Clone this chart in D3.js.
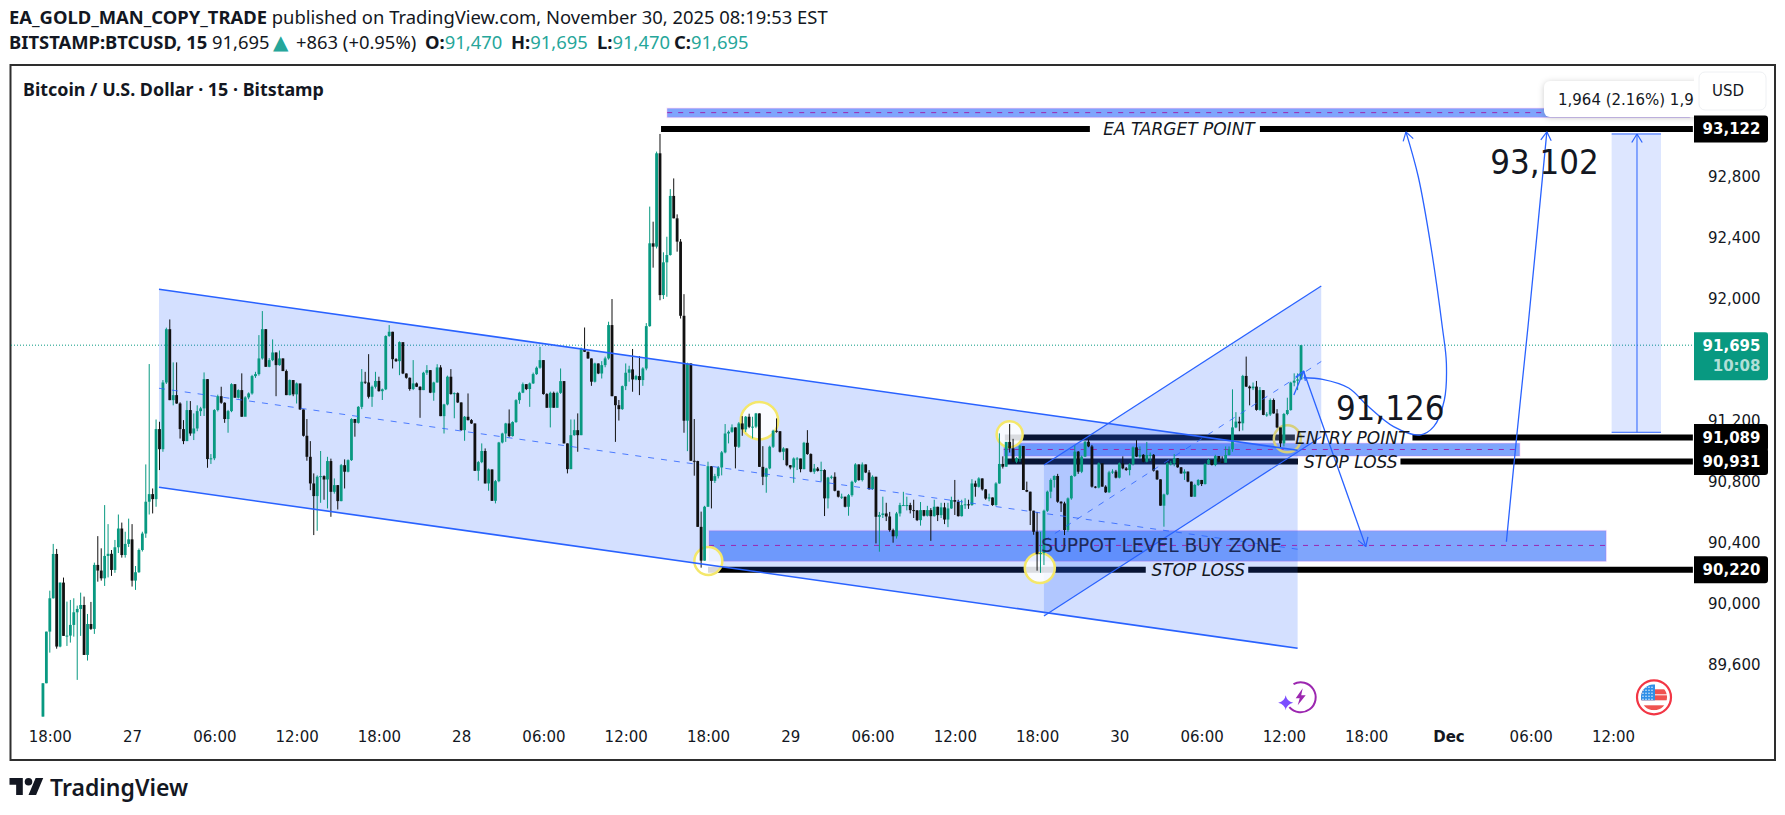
<!DOCTYPE html>
<html>
<head>
<meta charset="utf-8">
<script src="https://cdn.jsdelivr.net/npm/d3@7"></script>
<style>
  body { margin: 0; background: #fff; }
  text { font-family: "DejaVu Sans", sans-serif; }
  .head text, text.head { font-family: "Noto Sans", sans-serif; }
</style>
</head>
<body>
<script>
// candle values, 15 minute bars, open is the close before
var firstOpen = 89256;
var closes = [89475,89814,90033,90324,89716,90136,89786,89788,89858,89941,89963,89989,89661,89864,89832,90252,90215,90164,90311,90325,
90219,90368,90491,90317,90390,90420,90149,90204,90350,90458,90667,90717,90684,91144,91012,91450,91800,91334,91367,91312,
91144,91065,91269,91115,91148,91262,91280,91472,90947,90952,91269,91360,91317,91210,91262,91439,91350,91400,91225,91352,
91378,91492,91505,91608,91800,91553,91597,91647,91564,91608,91525,91367,91466,91372,91444,91273,91100,90962,90787,90704,
90831,90835,90813,90934,90732,90776,90671,90907,90864,90940,91210,91185,91290,91455,91450,91356,91422,91460,91393,91405,
91755,91783,91603,91590,91715,91509,91481,91407,91444,91422,91400,91514,91531,91383,91450,91549,91229,91306,91488,91374,
91380,91319,91137,91225,91203,91181,90870,90927,91000,90787,90879,90673,90802,91056,91115,91181,91098,91190,91334,91383,
91439,91407,91444,91505,91547,91597,91374,91284,91382,91284,91382,91459,91050,90881,91104,91137,91104,91669,91652,91608,
91455,91575,91509,91564,91608,91827,91360,91301,91275,91426,91514,91536,91470,91492,91466,91542,91820,92364,92342,92955,
92024,92239,92287,92675,92528,92375,91888,91199,91575,90936,90934,90502,90280,90634,90900,90804,90835,90892,90991,91115,
91126,91155,91028,91181,91142,91225,91159,91160,91247,90896,90831,90886,91028,91133,91130,90995,91017,90907,90892,90951,
90951,90881,91054,90980,90864,90885,90870,90875,90689,90826,90831,90739,90700,90700,90634,90710,90798,90912,90809,90912,
90859,90750,90831,90568,90580,90590,90570,90480,90440,90590,90645,90645,90645,90612,90610,90546,90612,90575,90612,90572,
90634,90579,90630,90550,90623,90678,90667,90572,90645,90650,90645,90787,90765,90820,90748,90688,90695,90645,90787,90915,
90897,91060,91017,90930,90952,91033,90744,90733,90608,90470,90323,90330,90608,90733,90810,90836,90667,90656,90481,90689,
90836,90996,90864,90963,91061,91030,90766,90760,90919,90766,90729,90860,90865,90825,90919,90886,90875,90915,91024,90963,
90975,90930,90974,90975,90871,90814,90641,90715,90919,90920,90952,90893,90853,90865,90799,90700,90777,90810,90783,90915,
90941,90908,90967,90930,90923,90974,91011,91155,91193,91182,91493,91423,91412,91423,91270,91400,91237,91240,91335,91247,
91155,91050,91243,91269,91449,91462,91470,91695];
var highs = [89475,89814,90083,90390,90357,90136,90169,90011,90022,90033,89985,90070,90044,89930,90009,90267,90441,90361,90645,90520,
90350,90416,90583,90530,90470,90556,90520,90245,90360,90470,90912,91571,90754,91207,91192,91466,91810,91864,91582,91582,
91320,91203,91330,91328,91247,91300,91290,91516,91472,90980,91275,91370,91422,91320,91270,91445,91439,91405,91510,91360,
91385,91500,91520,91761,91919,91800,91610,91733,91647,91660,91608,91535,91470,91466,91450,91418,91273,91210,91065,90853,
90840,91000,90840,90962,90950,90820,90776,90915,90945,90945,91215,91210,91295,91538,91520,91636,91430,91520,91488,91410,
91760,91827,91783,91610,91720,91695,91510,91483,91597,91450,91425,91520,91564,91531,91455,91570,91564,91310,91495,91538,
91385,91385,91319,91230,91378,91210,91181,90935,91050,91017,90885,90879,90810,91060,91120,91185,91273,91195,91340,91390,
91450,91439,91450,91515,91555,91684,91597,91380,91390,91390,91390,91542,91459,91050,91207,91207,91247,91680,91811,91652,
91608,91580,91575,91590,91620,91849,91998,91360,91335,91430,91575,91560,91670,91500,91623,91550,91840,92605,92506,92966,
93082,92305,92407,92720,92790,92554,92392,92030,91580,91575,91210,90936,90602,90640,90930,90900,90850,90900,91000,91177,
91135,91175,91155,91190,91229,91230,91245,91225,91250,91247,91032,90890,91035,91140,91214,91130,91025,91017,90907,90958,
90960,90950,91060,91137,90985,90915,90895,90930,90880,90830,90840,90860,90739,90720,90700,90718,90805,90920,90912,90925,
90912,90875,90840,90831,90600,90700,90660,90600,90490,90600,90660,90732,90700,90660,90680,90612,90665,90612,90640,90625,
90680,90634,90660,90660,90660,90700,90810,90680,90680,90690,90680,90815,90805,90828,90820,90750,90720,90695,90795,91116,
90965,91025,91177,91080,90960,91040,91033,90799,90733,90608,90600,90470,90615,90740,90820,90840,90850,90670,90667,90695,
90840,91040,91000,90970,91065,91076,91040,90770,90925,90919,90775,90870,90880,90876,90925,90965,90895,90920,91030,91072,
91030,90980,91060,90990,90980,90875,90814,90720,90925,90935,90980,90952,90895,90880,90865,90799,90785,90815,90810,90920,
90950,90941,90975,90967,90965,91030,91030,91405,91255,91225,91500,91620,91430,91450,91460,91420,91400,91255,91345,91345,
91275,91150,91250,91350,91455,91510,91510,91695];
var lows = [89256,89475,89676,90031,89702,89711,89786,89720,89742,89781,89497,89786,89661,89624,89825,89799,90142,90149,90114,90170,
90180,90200,90330,90300,90300,90370,90110,90088,90200,90340,90430,90583,90590,90634,90875,90995,91440,91334,91300,91310,
91082,91045,91065,91100,91072,91130,91230,91230,90890,90915,90940,91260,91310,91185,91120,91255,91350,91345,91225,91235,
91340,91370,91480,91495,91600,91553,91550,91590,91360,91560,91525,91367,91365,91360,91312,91270,91095,90936,90743,90448,
90476,90660,90680,90623,90568,90720,90616,90670,90754,90860,90935,91094,91180,91275,91440,91345,91290,91410,91390,91335,
91400,91750,91542,91585,91498,91505,91475,91396,91400,91420,91218,91400,91500,91380,91330,91450,91229,91115,91300,91370,
91215,91315,91133,91067,91200,91178,90870,90805,90920,90787,90739,90673,90656,90795,91050,91060,91090,91095,91185,91310,
91380,91400,91290,91440,91500,91540,91370,91284,91155,91284,91284,91375,91050,90853,90881,91100,90995,91104,91650,91605,
91428,91450,91505,91476,91550,91600,91360,91060,91200,91270,91400,91455,91389,91465,91367,91428,91530,91816,92204,92330,
91990,91998,92013,92283,92528,92309,91870,91120,90999,90936,90838,90502,90234,90280,90634,90623,90790,90820,90840,90985,
91050,91120,90886,91020,91100,91125,91150,91083,91150,90896,90776,90726,90880,91020,91120,90990,90940,90900,90880,90791,
90875,90860,90880,90975,90860,90850,90865,90800,90573,90623,90815,90735,90695,90685,90630,90575,90700,90790,90805,90800,
90855,90745,90745,90393,90339,90560,90540,90470,90398,90425,90570,90640,90610,90590,90560,90540,90510,90570,90570,90410,
90570,90540,90560,90520,90500,90620,90580,90570,90570,90620,90620,90640,90700,90760,90740,90680,90670,90640,90640,90785,
90885,90897,90990,90925,90920,90930,90744,90730,90514,90450,90214,90200,90251,90600,90690,90760,90660,90600,90448,90470,
90680,90830,90850,90855,90960,91025,90760,90755,90755,90766,90725,90725,90850,90820,90820,90880,90870,90840,90905,90960,
90950,90925,90925,90935,90865,90810,90641,90503,90710,90905,90900,90890,90850,90810,90795,90700,90700,90770,90770,90780,
90910,90905,90900,90925,90920,90935,90970,90995,91150,91130,91135,91420,91300,91400,91265,91265,91235,91225,91230,91245,
91150,91020,91030,91235,91265,91425,91400,91470];

// axis
var priceTicks = [92800, 92400, 92000, 91200, 90800, 90400, 90000, 89600];
var timeLabels = ["18:00","27","06:00","12:00","18:00","28","06:00","12:00","18:00","29","06:00","12:00","18:00","30","06:00","12:00","18:00","Dec","06:00","12:00"];
var timeBars = timeLabels.map(function(d, i) { return 2 + 24 * i; });

// drawings, all as [bar, price]
var downTop = [[33.85, 92062], [366, 91005]];
var downMid = [[33.85, 91412], [366, 90355]];
var downLow = [[33.85, 90762], [366, 89705]];
var upTop = [[292, 90908], [372.9, 92084]];
var upMid = [[292, 90412], [372.9, 91588]];
var upLow = [[292, 89916], [372.9, 91094]];

var zoneBars = [[182.1, 480.4], [280.3, 430.8], [194.3, 456]];
var zoneTops = [93250, 91051, 90477];
var zoneBottoms = [93191, 90967, 90276];
var zoneMids = [93222, 91010, 90380];

// the top level is drawn a little under its printed value
var levelPrices = [93114, 91089, 90931, 90220];
var levelLabels = ["93,122", "91,089", "90,931", "90,220"];
var levelStart = [180.3, 280.6, 280.6, 194];
var levelEnd = 481.3;
var levelGaps = [[305.4, 355], [365.2, 399.5], [366.1, 396], [321.7, 351.6]];
var levelNames = ["EA TARGET POINT", "ENTRY POINT", "STOP LOSS", "STOP LOSS"];

var ringBars = [194.1, 290.8, 209, 282, 363];
var ringPrices = [90278, 90232, 91199, 91110, 91080];
var ringSizes = [14, 15, 18.7, 13, 13.5];

var curveArrow = [[367.7,91481],[373.3,91471],[380.9,91414],[386.5,91295],[394,91160],[401.6,91105],[405.7,91160],[408.8,91335],[409.4,91576],[408.2,91816],[404.9,92341],[401.2,92801],[397.6,93096]];
var downArrow = [[367.7,91527],[385.9,90372]];
var smallArrow = [[364.9,91368],[367.8,91525]];
var upArrow = [[426.9,90404],[429.9,91094],[433.2,91816],[438.7,93096]];
var rangeBars = [457.6, 465, 472];
var rangePrices = [93082, 91123];

var w = 1785, h = 815;
var blue = "#2962ff";

var svg = d3.select("body").append("svg")
    .attr("width", w)
    .attr("height", h)
    .style("display", "block");

var xScale = d3.scaleLinear().domain([2, 458]).range([49.8, 1613]);
var yScale = d3.scaleLinear().domain([90000, 92800]).range([603.3, 176.9]);

var line = d3.line()
    .x(function(d) { return xScale(d[0]); })
    .y(function(d) { return yScale(d[1]); });

// header
var head = svg.append("g").attr("class", "head").attr("fill", "#131722").style("font-size", "18.4px");
var h1 = head.append("text").attr("x", 9).attr("y", 24);
h1.append("tspan").attr("font-weight", 700).text("EA_GOLD_MAN_COPY_TRADE");
h1.append("tspan").text(" published on TradingView.com, November 30, 2025 08:19:53 EST");
var h2 = head.append("text").attr("x", 9).attr("y", 49);
h2.append("tspan").attr("font-weight", 700).text("BITSTAMP:BTCUSD, 15");
h2.append("tspan").attr("x", 212).text("91,695");
h2.append("tspan").attr("x", 273).attr("fill", "#26a69a").style("font-family", "DejaVu Sans").style("font-size", "20px").text("▲");
h2.append("tspan").attr("x", 296).text("+863 (+0.95%)");
[["O:", "91,470", 425], ["H:", "91,695", 511], ["L:", "91,470", 597], ["C:", "91,695", 674]].forEach(function(d) {
    h2.append("tspan").attr("x", d[2]).attr("font-weight", 700).text(d[0]);
    h2.append("tspan").attr("fill", "#26a69a").text(d[1]);
});

// frame
svg.append("rect")
    .attr("x", 10.5).attr("y", 65).attr("width", 1764.5).attr("height", 695)
    .attr("fill", "none").attr("stroke", "#2e2e2e").attr("stroke-width", 2);
svg.append("text").attr("class", "head")
    .attr("x", 23).attr("y", 96)
    .attr("fill", "#131722").attr("font-weight", 700).style("font-size", "17.9px")
    .text("Bitcoin / U.S. Dollar · 15 · Bitstamp");

// last price line
svg.append("line")
    .attr("x1", 11).attr("x2", 1694)
    .attr("y1", yScale(91695)).attr("y2", yScale(91695))
    .attr("stroke", "#089981").attr("stroke-width", 1).attr("stroke-dasharray", "1 2");

// thick levels
levelPrices.forEach(function(p, i) {
    var segs = [[levelStart[i], levelGaps[i][0]], [levelGaps[i][1], levelEnd]];
    segs.forEach(function(s) {
        svg.append("line")
            .attr("x1", xScale(s[0])).attr("x2", xScale(s[1]))
            .attr("y1", yScale(p)).attr("y2", yScale(p))
            .attr("stroke", "#000").attr("stroke-width", 6);
    });
});

// channel fills
var fillColor = "rgba(41,98,255,0.2)";
svg.append("path").attr("d", line(downTop.concat(downLow.slice().reverse()))).attr("fill", fillColor);
svg.append("path").attr("d", line(upTop.concat(upLow.slice().reverse()))).attr("fill", fillColor);

// range box
svg.append("rect")
    .attr("x", xScale(rangeBars[0])).attr("width", xScale(rangeBars[2]) - xScale(rangeBars[0]))
    .attr("y", yScale(rangePrices[0])).attr("height", yScale(rangePrices[1]) - yScale(rangePrices[0]))
    .attr("fill", "rgba(41,98,255,0.16)");

// zones
zoneBars.forEach(function(b, i) {
    svg.append("rect")
        .attr("x", xScale(b[0])).attr("width", xScale(b[1]) - xScale(b[0]))
        .attr("y", yScale(zoneTops[i])).attr("height", yScale(zoneBottoms[i]) - yScale(zoneTops[i]))
        .attr("fill", "rgba(41,105,250,0.6)")
        .attr("stroke", "rgba(225,60,220,0.15)").attr("stroke-width", 1.5);
    svg.append("line")
        .attr("x1", xScale(b[0])).attr("x2", xScale(b[1]))
        .attr("y1", yScale(zoneMids[i])).attr("y2", yScale(zoneMids[i]))
        .attr("stroke", "#9c27b0").attr("stroke-width", 1).attr("stroke-dasharray", "5 6");
});

// rings
ringBars.forEach(function(b, i) {
    svg.append("circle")
        .attr("cx", xScale(b)).attr("cy", yScale(ringPrices[i])).attr("r", ringSizes[i])
        .attr("fill", i == 4 ? "rgba(255,255,255,0.15)" : "rgba(255,255,255,0.85)")
        .attr("stroke", i == 4 ? "#d6cf7c" : "#f4e76a").attr("stroke-width", 2.5);
});

// candles
var candles = closes.map(function(c, i) {
    return { i: i, open: i == 0 ? firstOpen : closes[i - 1], close: c, high: highs[i], low: lows[i] };
});
var candleColor = function(d) { return d.close >= d.open ? "#089981" : "#111"; };

svg.selectAll(".wick")
    .data(candles)
    .enter()
    .append("line")
    .attr("class", "wick")
    .attr("x1", function(d) { return xScale(d.i); })
    .attr("x2", function(d) { return xScale(d.i); })
    .attr("y1", function(d) { return yScale(d.high); })
    .attr("y2", function(d) { return yScale(d.low); })
    .attr("stroke", candleColor)
    .attr("stroke-width", 1);

svg.selectAll(".body")
    .data(candles)
    .enter()
    .append("rect")
    .attr("class", "body")
    .attr("x", function(d) { return xScale(d.i) - 1.4; })
    .attr("width", 2.8)
    .attr("y", function(d) { return yScale(Math.max(d.open, d.close)); })
    .attr("height", function(d) { return Math.max(1, Math.abs(yScale(d.open) - yScale(d.close))); })
    .attr("fill", candleColor);

// channel lines
[downTop, downLow, upTop, upLow].forEach(function(d, i) {
    svg.append("path").attr("d", line(d)).attr("fill", "none")
        .attr("stroke", blue).attr("stroke-width", i < 2 ? 1.6 : 1.2);
});
[downMid, upMid].forEach(function(d) {
    svg.append("path").attr("d", line(d)).attr("fill", "none")
        .attr("stroke", blue).attr("stroke-width", 1).attr("stroke-dasharray", "6 7").attr("opacity", 0.8);
});

// arrows
function arrowHead(pts) {
    var a = pts[pts.length - 2], b = pts[pts.length - 1];
    var x0 = xScale(a[0]), y0 = yScale(a[1]), x1 = xScale(b[0]), y1 = yScale(b[1]);
    var ang = Math.atan2(y0 - y1, x0 - x1);
    [-0.55, 0.55].forEach(function(o) {
        svg.append("line")
            .attr("x1", x1).attr("y1", y1)
            .attr("x2", x1 + 10 * Math.cos(ang + o)).attr("y2", y1 + 10 * Math.sin(ang + o))
            .attr("stroke", blue).attr("stroke-width", 1.2);
    });
}
var curveLine = d3.line()
    .curve(d3.curveCatmullRom)
    .x(function(d) { return xScale(d[0]); })
    .y(function(d) { return yScale(d[1]); });
[curveArrow, downArrow, smallArrow, upArrow].forEach(function(d) {
    svg.append("path").attr("d", curveLine(d)).attr("fill", "none").attr("stroke", blue).attr("stroke-width", 1.3);
    arrowHead(d);
});
rangePrices.forEach(function(p) {
    svg.append("line")
        .attr("x1", xScale(rangeBars[0])).attr("x2", xScale(rangeBars[2]))
        .attr("y1", yScale(p)).attr("y2", yScale(p))
        .attr("stroke", blue).attr("stroke-width", 1);
});
var rangeLine = [[rangeBars[1], rangePrices[1]], [rangeBars[1], rangePrices[0]]];
svg.append("path").attr("d", line(rangeLine)).attr("stroke", blue).attr("stroke-width", 1);
arrowHead(rangeLine);

// level names
var levelTextBars = [331.4, 381.8, 381.5, 337];
levelNames.forEach(function(t, i) {
    svg.append("text")
        .attr("x", xScale(levelTextBars[i])).attr("y", yScale(levelPrices[i]))
        .attr("dy", "0.36em").attr("text-anchor", "middle")
        .attr("font-style", "italic").attr("fill", "#131722")
        .style("font-size", "17px")
        .text(t);
});
// big notes
var noteTexts = ["93,102", "91,126", "SUPPOT LEVEL BUY ZONE"];
var noteBars = [438, 393, 326.3];
var notePrices = [92900, 91282, 90383];
var noteSizes = [34.5, 34.5, 18.7];
noteTexts.forEach(function(t, i) {
    svg.append("text")
        .attr("x", xScale(noteBars[i])).attr("y", yScale(notePrices[i]))
        .attr("dy", "0.36em").attr("text-anchor", "middle")
        .attr("fill", i == 2 ? "#1b2a58" : "#131722")
        .style("font-family", i == 2 ? "DejaVu Sans" : "DejaVu Sans Condensed")
        .style("font-size", noteSizes[i] + "px")
        .text(t);
});

// tooltip
var tip = svg.append("g");
tip.append("rect")
    .attr("x", 1544).attr("y", 81).attr("width", 160).attr("height", 36).attr("rx", 6)
    .attr("fill", "#fff").style("filter", "drop-shadow(0 1px 3px rgba(0,0,0,0.2))");
tip.append("text")
    .attr("x", 1558).attr("y", 105).attr("fill", "#131722").style("font-size", "15px")
    .text("1,964 (2.16%) 1,9");

// axes
var yAxis = d3.axisRight(yScale)
    .tickValues(priceTicks)
    .tickSize(0)
    .tickFormat(d3.format(","));
svg.append("rect").attr("x", 1694).attr("y", 66).attr("width", 80).attr("height", 693).attr("fill", "#fff");
var yG = svg.append("g").attr("transform", "translate(1760.5,0)").call(yAxis);
yG.select(".domain").remove();
yG.selectAll("text").attr("x", 0).attr("text-anchor", "end")
    .style("font-size", "15px").style("font-family", "DejaVu Sans").attr("fill", "#131722");

var xAxis = d3.axisBottom(xScale)
    .tickValues(timeBars)
    .tickSize(0)
    .tickFormat(function(d, i) { return timeLabels[i]; });
var xG = svg.append("g").attr("transform", "translate(0,728)").call(xAxis);
xG.select(".domain").remove();
xG.selectAll("text")
    .style("font-size", "15px").style("font-family", "DejaVu Sans").attr("fill", "#131722")
    .attr("font-weight", function(d, i) { return timeLabels[i] == "Dec" ? 700 : 400; });

// price labels on the right
function priceLabel(p, label, live) {
    var cy = live ? yScale(p) + 11 : yScale(p);
    var bh = live ? 48 : 27;
    svg.append("path")
        .attr("d", "M1694," + (cy - bh / 2) + "H1765a3,3 0 0 1 3,3V" + (cy + bh / 2 - 3) + "a3,3 0 0 1 -3,3H1694Z")
        .attr("fill", live ? "#089981" : "#000");
    svg.append("text")
        .attr("x", 1760.5).attr("y", yScale(p)).attr("dy", "0.36em")
        .attr("text-anchor", "end").attr("fill", "#fff").attr("font-weight", 700)
        .style("font-size", "15px")
        .text(label);
}
levelPrices.forEach(function(p, i) { priceLabel(p, levelLabels[i], false); });
priceLabel(91695, "91,695", true);
svg.append("text")
    .attr("x", 1760.5).attr("y", yScale(91695) + 20.5).attr("dy", "0.36em")
    .attr("text-anchor", "end").attr("fill", "rgba(255,255,255,0.7)").attr("font-weight", 700)
    .style("font-size", "15px")
    .text("10:08");

// USD button
svg.append("rect")
    .attr("x", 1699).attr("y", 72).attr("width", 67).attr("height", 38).attr("rx", 6)
    .attr("fill", "#fff").attr("stroke", "#eef0f3");
svg.append("text")
    .attr("x", 1728).attr("y", 91).attr("dy", "0.36em").attr("text-anchor", "middle")
    .attr("fill", "#131722").style("font-size", "15px").text("USD");

// bottom icons
var bolt = svg.append("g").attr("transform", "translate(1300.7,697.3)");
bolt.append("path")
    .attr("d", d3.arc()({ innerRadius: 14, outerRadius: 16, startAngle: -0.5, endAngle: 4.0 }))
    .attr("fill", "#9c27b0");
bolt.append("path").attr("d", "M2,-9 L-5,1 L-1,1 L-3,8 L5,-2 L0.5,-2 Z").attr("fill", "#9c27b0");
bolt.append("path").attr("d", "M-15,-2 Q-14,4 -7.5,5.5 Q-14,7 -15,13 Q-16,7 -22.5,5.5 Q-16,4 -15,-2 Z").attr("fill", "#7c4dff");

var flag = svg.append("g").attr("transform", "translate(1654,697.3)");
flag.append("circle").attr("r", 17).attr("fill", "#fff").attr("stroke", "#f23645").attr("stroke-width", 2.2);
flag.append("clipPath").attr("id", "flagClip").append("circle").attr("r", 13);
var flagIn = flag.append("g").attr("clip-path", "url(#flagClip)");
flagIn.append("rect").attr("x", -13).attr("y", -13).attr("width", 26).attr("height", 26).attr("fill", "#fff");
[-8, -2, 8].forEach(function(s) {
    flagIn.append("rect").attr("x", -13).attr("y", s).attr("width", 26).attr("height", 5).attr("fill", "#ef5350");
});
flagIn.append("rect").attr("x", -13).attr("y", -13).attr("width", 14).attr("height", 16).attr("fill", "#2f8fe8");
d3.range(-11, 1, 3).forEach(function(a) {
    d3.range(-10, 3, 3).forEach(function(b) {
        flagIn.append("circle").attr("cx", a).attr("cy", b).attr("r", 0.7).attr("fill", "#fff");
    });
});

// logo
var logo = svg.append("g").attr("transform", "translate(9.5,774.2) scale(0.95)").attr("fill", "#131722");
logo.append("path").attr("d", "M14 22H7V11H0V4h14v18zM28 22h-8l7.5-18h8L28 22z");
logo.append("circle").attr("cx", 20).attr("cy", 8).attr("r", 4);
svg.append("text").attr("class", "head")
    .attr("x", 50).attr("y", 796).attr("fill", "#131722").attr("font-weight", 600)
    .style("font-size", "23px")
    .text("TradingView");
</script>
</body>
</html>
